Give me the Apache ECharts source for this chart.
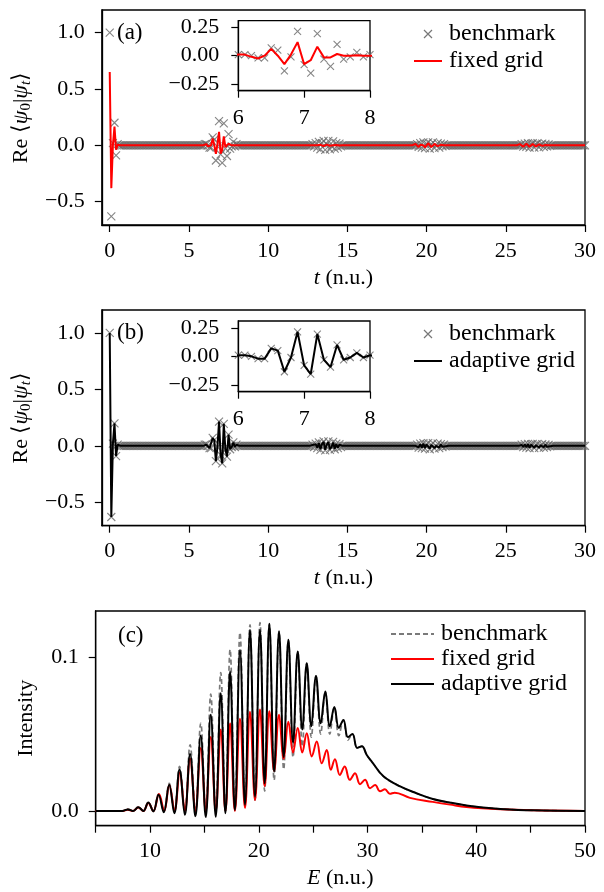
<!DOCTYPE html>
<html><head><meta charset="utf-8">
<script src="https://cdn.jsdelivr.net/npm/echarts@6/dist/echarts.min.js"></script>
<style>html,body{margin:0;padding:0;background:#fff}#c{width:604px;height:892px}</style>
</head><body><div id="c"></div>
<script>
// ---------- time-domain data (sample step 0.1, t = 0 .. 30) ----------
const tStep = 0.1;
const benchmark = [
 1.0,-0.63,0.02,0.2,-0.09,0.01,0,0,0,0,
 0,0,0,0,0,0,0,0,0,0,
 0,0,0,0,0,0,0,0,0,0,
 0,0,0,0,0,0,0,0,0,0,
 0,0,0,0,0,0,0,0,0,0,
 0,0,0,0,0,0,0,0,0,0,
 0.01,0.01,0.0,-0.02,-0.02,0.07,0.05,-0.135,-0.01,0.215,
 -0.08,-0.155,0.195,-0.03,-0.095,0.1,-0.03,-0.01,0.03,-0.01,
 0.01,0,0,0,0,0,0,0,0,0,
 0,0,0,0,0,0,0,0,0,0,
 0,0,0,0,0,0,0,0,0,0,
 0,0,0,0,0,0,0,0,0,0,
 0,0,0,0,0,0,0,0,0.01,-0.01,
 0.02,-0.02,0.03,-0.035,0.02,0.04,-0.04,0.01,0.04,-0.035,
 -0.01,0.035,-0.03,0.02,-0.02,0.015,-0.01,0,0,0,
 0,0,0,0,0,0,0,0,0,0,
 0,0,0,0,0,0,0,0,0,0,
 0,0,0,0,0,0,0,0,0,0,
 0,0,0,0,0,0,0,0,0,0,
 0,0,0,0,0.01,-0.015,0.02,-0.02,0.025,-0.025,
 0.015,0.025,-0.03,0.01,0.025,-0.025,0.0,0.02,-0.02,0.015,
 -0.01,0.01,-0.005,0,0,0,0,0,0,0,
 0,0,0,0,0,0,0,0,0,0,
 0,0,0,0,0,0,0,0,0,0,
 0,0,0,0,0,0,0,0,0,0,
 0,0,0,0,0,0,0,0,0,0,
 0.01,-0.012,0.015,-0.015,0.018,-0.02,0.012,0.018,-0.02,0.008,
 0.018,-0.018,0.005,0.015,-0.015,0.012,-0.01,0.008,-0.005,0,
 0,0,0,0,0,0,0,0,0,0,
 0,0,0,0,0,0,0,0,0,0,
 0
];
const fixedGrid = [
 0.65,-0.38,0.0,0.165,-0.04,0.005,0,0,0,0,
 0,0,0,0,0,0,0,0,0,0,
 0,0,0,0,0,0,0,0,0,0,
 0,0,0,0,0,0,0,0,0,0,
 0,0,0,0,0,0,0,0,0,0,
 0,0,0,0,0,0,0,0,0,0,
 0.01,0.01,-0.01,-0.025,0.0,0.06,0.0,-0.075,0.01,0.12,
 -0.075,-0.04,0.08,-0.015,-0.015,0.015,0.0,0.0,0.005,0.0,
 0,0,0,0,0,0,0,0,0,0,
 0,0,0,0,0,0,0,0,0,0,
 0,0,0,0,0,0,0,0,0,0,
 0,0,0,0,0,0,0,0,0,0,
 0,0,0,0,0,0,0,0,0,0,
 0,0,0,0.004,0.008,-0.006,-0.01,0.006,0.012,-0.004,
 -0.012,0.0,0.01,0.003,-0.006,-0.002,0,0,0,0,
 0,0,0,0,0,0,0,0,0,0,
 0,0,0,0,0,0,0,0,0,0,
 0,0,0,0,0,0,0,0,0,0,
 0,0,0,0,0,0,0,0,0,0,
 0,0,0.005,0.012,-0.005,-0.015,0.005,0.018,0.0,-0.018,
 -0.005,0.018,0.008,-0.015,-0.01,0.012,0.008,-0.008,-0.005,0.004,
 0,0,0,0,0,0,0,0,0,0,
 0,0,0,0,0,0,0,0,0,0,
 0,0,0,0,0,0,0,0,0,0,
 0,0,0,0,0,0,0,0,0,0,
 0,0,0,0,0,0,0,0,0.004,0.01,
 -0.004,-0.012,0.003,0.013,0.0,-0.013,-0.004,0.012,0.006,-0.01,
 -0.007,0.008,0.006,-0.005,-0.004,0.003,0,0,0,0,
 0,0,0,0,0,0,0,0,0,0,
 0,0,0,0,0,0,0,0,0,0,
 0
];
const adaptiveGrid = [
 1.0,-0.63,0.02,0.2,-0.09,0.01,0,0,0,0,
 0,0,0,0,0,0,0,0,0,0,
 0,0,0,0,0,0,0,0,0,0,
 0,0,0,0,0,0,0,0,0,0,
 0,0,0,0,0,0,0,0,0,0,
 0,0,0,0,0,0,0,0,0,0,
 0.01,0.01,0.0,-0.02,-0.02,0.07,0.05,-0.135,-0.01,0.215,
 -0.08,-0.155,0.195,-0.03,-0.095,0.1,-0.03,-0.01,0.03,-0.01,
 0.01,0,0,0,0,0,0,0,0,0,
 0,0,0,0,0,0,0,0,0,0,
 0,0,0,0,0,0,0,0,0,0,
 0,0,0,0,0,0,0,0,0,0,
 0,0,0,0,0,0,0,0,0.008,-0.008,
 0.015,-0.015,0.025,-0.03,0.015,0.035,-0.035,0.01,0.035,-0.03,
 -0.01,0.03,-0.025,0.015,-0.015,0.01,-0.005,0,0,0,
 0,0,0,0,0,0,0,0,0,0,
 0,0,0,0,0,0,0,0,0,0,
 0,0,0,0,0,0,0,0,0,0,
 0,0,0,0,0,0,0,0,0,0,
 0,0,0,0,0.008,-0.012,0.015,-0.015,0.02,-0.02,
 0.012,0.02,-0.025,0.008,0.02,-0.02,0.0,0.015,-0.015,0.012,
 -0.008,0.008,-0.004,0,0,0,0,0,0,0,
 0,0,0,0,0,0,0,0,0,0,
 0,0,0,0,0,0,0,0,0,0,
 0,0,0,0,0,0,0,0,0,0,
 0,0,0,0,0,0,0,0,0,0,
 0.008,-0.01,0.012,-0.012,0.015,-0.016,0.01,0.015,-0.016,0.006,
 0.015,-0.015,0.004,0.012,-0.012,0.01,-0.008,0.006,-0.004,0,
 0,0,0,0,0,0,0,0,0,0,
 0,0,0,0,0,0,0,0,0,0,
 0
];
const timeTicks = [0,5,10,15,20,25,30];
const reTicks = [-0.5,0,0.5,1.0];
const insetTimeTicks = [6,7,8];
const insetReTicks = [-0.25,0,0.25];

// ---------- spectrum data ----------
const specE_bench = [5,7.0,7.45,7.94,8.43,8.92,9.38,9.84,10.3,10.78,11.26,11.76,12.23,12.71,13.2,13.68,14.17,14.66,15.12,15.58,16.04,16.5,16.93,17.36,17.8,18.27,18.73,19.19,19.65,20.11,20.54,20.97,21.41,21.86,22.29,22.72,23.15,23.58,24.0,24.41,24.83,25.26,25.69,26.12,26.53,26.95,27.36,27.78,28.2,28.61,29.05,29.48,29.93,30.5,31.46,33.0,34.5,36.0,37.6,39.1,40.6,42.2,45.2,50];
const specI_bench = [0,0,0,0.0013,0,0.0027,0,0.0058,0,0.011,0,0.018,0,0.029,0,0.043,0,0.057,0,0.076,0,0.090,0,0.105,0.001,0.116,0.003,0.121,0.007,0.1224,0.013,0.1217,0.02,0.1167,0.027,0.1113,0.035,0.1037,0.042,0.0961,0.048,0.0878,0.050,0.0776,0.050,0.0675,0.049,0.0592,0.046,0.050,0.041,0.042,0.0364,0.031,0.0225,0.0159,0.0115,0.0078,0.0054,0.0035,0.0022,0.0013,0.0004,0];
const specE_adaptive = specE_bench;
const specI_adaptive = [0,0,0,0.001,0,0.0024,0,0.0055,-0.0003,0.0105,-0.0008,0.017,-0.0015,0.027,-0.0025,0.037,-0.0035,0.049,-0.004,0.0625,-0.0037,0.0766,-0.0015,0.0906,0.0006,0.1047,0.004,0.1178,0.0093,0.1178,0.018,0.1217,0.0255,0.1167,0.035,0.1113,0.0443,0.1037,0.053,0.0961,0.055,0.0878,0.057,0.0776,0.055,0.0675,0.054,0.0592,0.048,0.050,0.041,0.042,0.0364,0.031,0.0225,0.0159,0.0115,0.0078,0.0054,0.0035,0.0022,0.0013,0.0004,0];
const specE_fixed = [5,7.0,7.45,7.94,8.43,8.92,9.38,9.84,10.3,10.82,11.3,11.77,12.25,12.73,13.2,13.68,14.17,14.66,15.12,15.58,16.04,16.5,16.93,17.36,17.8,18.27,18.73,19.19,19.65,20.11,20.54,20.97,21.41,21.86,22.29,22.72,23.15,23.58,24.0,24.41,24.87,25.33,25.79,26.25,26.62,27.0,27.45,27.9,28.37,28.85,29.31,29.77,30.23,30.7,31.15,31.6,32.05,32.5,33.9,36.0,37.6,39.1,42.2,45.2,50];
const specI_fixed = [0,0,0,0.0008,0,0.0022,0,0.0052,0,0.011,0,0.0169,0,0.025,0,0.034,0,0.041,0,0.048,0,0.053,0,0.057,0,0.060,0.002,0.0645,0.007,0.066,0.016,0.0648,0.026,0.0625,0.034,0.058,0.038,0.054,0.038,0.0505,0.0354,0.0451,0.031,0.0397,0.0267,0.0336,0.0234,0.0289,0.0202,0.0245,0.0174,0.0202,0.0148,0.0169,0.0128,0.0141,0.0111,0.0119,0.0085,0.0059,0.0041,0.0026,0.0011,0.0004,0];
const energyTicks = [5,10,15,20,25,30,35,40,45,50];
const energyLabels = [10,20,30,40,50];
const intensityTicks = [0,0.1];

// ---------- helpers ----------
const FONT = 'Liberation Serif';
const FS = 22;
const LW = 2;
const toPairs = vals => vals.map((v, i) => [Math.round(i * 10 * tStep) / 10, v]);
const zip = (xs, ys) => xs.map((x, i) => [x, ys[i]]);
const fmt = d => v => (v < 0 ? '\u2212' : '') + Math.abs(v).toFixed(d);
const CROSS = 'path://M0,0L1,1M1,0L0,1';
const crossStyle = {color: 'rgba(0,0,0,0)', borderColor: '#666', borderWidth: 1.1};
const noSym = {color: 'rgba(0,0,0,0)', borderWidth: 0, borderColor: 'rgba(0,0,0,0)'};

function xAx(grid, min, max, ticks, labels, fmtF, name, margin) {
  return {
    type: 'value', gridIndex: grid, min, max, position: 'bottom',
    axisLine: {show: true, onZero: false, lineStyle: {color: '#000', width: 1.3}},
    axisTick: {show: true, inside: false, length: 7, customValues: ticks, lineStyle: {color: '#000', width: 1.2}},
    axisLabel: {show: true, customValues: labels, margin: margin, color: '#000', fontFamily: FONT, fontSize: FS, formatter: fmtF},
    splitLine: {show: false},
    name: name || '', nameLocation: 'middle', nameGap: 42,
    nameTextStyle: {color: '#000', fontFamily: FONT, fontSize: FS, rich: {i: {fontStyle: 'italic', fontFamily: FONT, fontSize: FS, color: '#000'}}}
  };
}
function yAx(grid, min, max, ticks, fmtF, name, nameGap, margin) {
  return {
    type: 'value', gridIndex: grid, min, max, position: 'left',
    axisLine: {show: true, onZero: false, lineStyle: {color: '#000', width: 1.3}},
    axisTick: {show: true, inside: false, length: 7, customValues: ticks, lineStyle: {color: '#000', width: 1.2}},
    axisLabel: {show: true, customValues: ticks, margin: margin, color: '#000', fontFamily: FONT, fontSize: FS, formatter: fmtF},
    splitLine: {show: false},
    name: name || '', nameLocation: 'middle', nameRotate: 90, nameGap: nameGap || 60,
    nameTextStyle: {color: '#000', fontFamily: FONT, fontSize: FS, lineHeight: 26,
      rich: {
        n: {fontFamily: FONT, fontSize: FS, color: '#000', lineHeight: 26},
        i: {fontStyle: 'italic', fontFamily: FONT, fontSize: FS, color: '#000', lineHeight: 26},
        s: {fontFamily: FONT, fontSize: 15, color: '#000', verticalAlign: 'bottom', lineHeight: 15},
        si: {fontFamily: FONT, fontStyle: 'italic', fontSize: 15, color: '#000', verticalAlign: 'bottom', lineHeight: 15}
      }}
  };
}
const reName = '{n|Re \u27E8}{i|\u03C8}{s|0}{n||}{i|\u03C8}{si|t}{n|\u27E9}';
const gridBase = {show: true, borderColor: '#000', borderWidth: 1.3, backgroundColor: '#fff', containLabel: false};
const legendText = {fontFamily: FONT, fontSize: 24, lineHeight: 22, color: '#000', padding: [0, 0, 0, 2]};

const option = {
  animation: false,
  backgroundColor: '#fff',
  textStyle: {fontFamily: FONT},
  grid: [
    Object.assign({left: 95.5, top: 10, width: 489.5, height: 215}, gridBase),
    Object.assign({left: 238.3, top: 20.7, width: 131.7, height: 70}, gridBase),
    Object.assign({left: 95.5, top: 310, width: 489.5, height: 215.7}, gridBase),
    Object.assign({left: 238.3, top: 321, width: 131.7, height: 70.7}, gridBase),
    Object.assign({left: 95.7, top: 611, width: 489.3, height: 214.7}, gridBase)
  ],
  xAxis: [
    xAx(0, -0.5, 30, timeTicks, timeTicks, v => String(v), '{i|t} (n.u.)', 15),
    xAx(1, 6, 8, insetTimeTicks, insetTimeTicks, v => String(v), '', 17),
    xAx(2, -0.5, 30, timeTicks, timeTicks, v => String(v), '{i|t} (n.u.)', 15),
    xAx(3, 6, 8, insetTimeTicks, insetTimeTicks, v => String(v), '', 17),
    xAx(4, 5, 50, energyTicks, energyLabels, v => String(v), '{i|E} (n.u.)', 15)
  ],
  yAxis: [
    yAx(0, -0.707, 1.2, reTicks, fmt(1), reName, 62, 17),
    yAx(1, -0.31, 0.31, insetReTicks, fmt(2), '', 0, 19),
    yAx(2, -0.707, 1.203, reTicks, fmt(1), reName, 62, 17),
    yAx(3, -0.31, 0.31, insetReTicks, fmt(2), '', 0, 19),
    yAx(4, -0.0096, 0.130, intensityTicks, fmt(1), 'Intensity', 56, 17)
  ],
  legend: [
    {orient: 'vertical', left: 413, top: 22, padding: 0, itemGap: 3, itemWidth: 28, itemHeight: 8,
     selectedMode: false, formatter: n => n.replace(/_.$/, ''), textStyle: legendText,
     data: [{name: 'benchmark_a', icon: CROSS, itemStyle: {color: 'rgba(0,0,0,0)', borderColor: '#555', borderWidth: 1.2}},
            {name: 'fixed grid_a', itemStyle: noSym}]},
    {orient: 'vertical', left: 413, top: 322, padding: 0, itemGap: 3, itemWidth: 28, itemHeight: 8,
     selectedMode: false, formatter: n => n.replace(/_.$/, ''), textStyle: legendText,
     data: [{name: 'benchmark_b', icon: CROSS, itemStyle: {color: 'rgba(0,0,0,0)', borderColor: '#555', borderWidth: 1.2}},
            {name: 'adaptive grid_b', itemStyle: noSym}]},
    {orient: 'vertical', left: 390, top: 622, padding: 0, itemGap: 1, itemWidth: 43, itemHeight: 8,
     selectedMode: false, formatter: n => n.replace(/_.$/, ''), textStyle: legendText,
     data: [{name: 'benchmark_c', itemStyle: noSym}, {name: 'fixed grid_c', itemStyle: noSym}, {name: 'adaptive grid_c', itemStyle: noSym}]}
  ],
  graphic: [
    {type: 'text', left: 117, top: 21, style: {text: '(a)', fontFamily: FONT, fontSize: 23, fill: '#000'}},
    {type: 'text', left: 117, top: 321, style: {text: '(b)', fontFamily: FONT, fontSize: 23, fill: '#000'}},
    {type: 'text', left: 118, top: 624, style: {text: '(c)', fontFamily: FONT, fontSize: 23, fill: '#000'}}
  ],
  series: [
    // panel (a)
    {name: 'benchmark_a', type: 'scatter', xAxisIndex: 0, yAxisIndex: 0, data: toPairs(benchmark),
     symbol: CROSS, symbolSize: 8, itemStyle: crossStyle, silent: true, z: 2},
    {name: 'fixed grid_a', type: 'line', xAxisIndex: 0, yAxisIndex: 0, data: toPairs(fixedGrid),
     symbol: 'none', lineStyle: {color: '#ff0000', width: LW}, itemStyle: {color: '#ff0000'}, silent: true, z: 3},
    {name: 'inset bench a', type: 'scatter', xAxisIndex: 1, yAxisIndex: 1, data: toPairs(benchmark),
     symbol: CROSS, symbolSize: 7, itemStyle: crossStyle, silent: true, z: 4},
    {name: 'inset fixed a', type: 'line', xAxisIndex: 1, yAxisIndex: 1, data: toPairs(fixedGrid),
     symbol: 'none', lineStyle: {color: '#ff0000', width: LW}, silent: true, z: 5},
    // panel (b)
    {name: 'benchmark_b', type: 'scatter', xAxisIndex: 2, yAxisIndex: 2, data: toPairs(benchmark),
     symbol: CROSS, symbolSize: 8, itemStyle: crossStyle, silent: true, z: 2},
    {name: 'adaptive grid_b', type: 'line', xAxisIndex: 2, yAxisIndex: 2, data: toPairs(adaptiveGrid),
     symbol: 'none', lineStyle: {color: '#000', width: LW}, itemStyle: {color: '#000'}, silent: true, z: 3},
    {name: 'inset bench b', type: 'scatter', xAxisIndex: 3, yAxisIndex: 3, data: toPairs(benchmark),
     symbol: CROSS, symbolSize: 7, itemStyle: crossStyle, silent: true, z: 4},
    {name: 'inset adaptive b', type: 'line', xAxisIndex: 3, yAxisIndex: 3, data: toPairs(adaptiveGrid),
     symbol: 'none', lineStyle: {color: '#000', width: LW}, silent: true, z: 5},
    // panel (c)
    {name: 'benchmark_c', type: 'line', xAxisIndex: 4, yAxisIndex: 4, data: zip(specE_bench, specI_bench),
     symbol: 'none', smooth: 0.4, lineStyle: {color: '#7a7a7a', width: 1.7, type: [5, 3]}, itemStyle: {color: '#7a7a7a'}, silent: true, z: 2},
    {name: 'fixed grid_c', type: 'line', xAxisIndex: 4, yAxisIndex: 4, data: zip(specE_fixed, specI_fixed),
     symbol: 'none', smooth: 0.4, lineStyle: {color: '#ff0000', width: LW}, itemStyle: {color: '#ff0000'}, silent: true, z: 3},
    {name: 'adaptive grid_c', type: 'line', xAxisIndex: 4, yAxisIndex: 4, data: zip(specE_adaptive, specI_adaptive),
     symbol: 'none', smooth: 0.4, lineStyle: {color: '#000', width: LW}, itemStyle: {color: '#000'}, silent: true, z: 4}
  ]
};
const chart = echarts.init(document.getElementById('c'), null, {renderer: 'canvas'});
chart.setOption(option);
</script></body></html>
